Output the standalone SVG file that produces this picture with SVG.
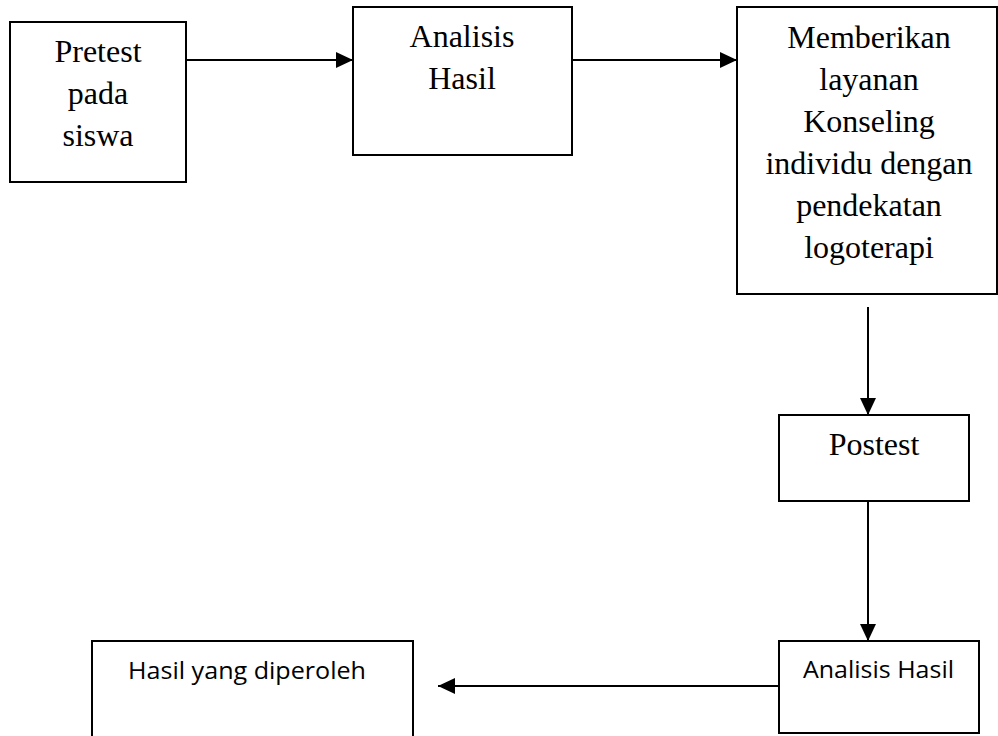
<svg xmlns="http://www.w3.org/2000/svg" width="998" height="736" viewBox="0 0 998 736">
<style>
.box{fill:#fff;stroke:#000;stroke-width:2}
.serif{font-family:"Liberation Serif","Times New Roman",serif;font-size:32px;fill:#000;text-anchor:middle}
.sans{font-family:"Open Sans","Noto Sans","Liberation Sans",sans-serif;font-size:24px;fill:#000}
.conn{stroke:#000;stroke-width:2;fill:none;marker-end:url(#arrow)}
</style>
<defs>
<marker id="arrow" viewBox="0 0 17 16" refX="17" refY="8" markerWidth="17" markerHeight="16" markerUnits="userSpaceOnUse" orient="auto">
<path d="M0,0 L17,8 L0,16 Z" fill="#000"/>
</marker>
</defs>
<rect width="998" height="736" fill="#fff"/>
<g id="n1">
<rect class="box" x="10" y="22" width="176" height="160"/>
<text class="serif" x="98" y="62">Pretest</text>
<text class="serif" x="98" y="104">pada</text>
<text class="serif" x="98" y="146">siswa</text>
</g>
<g id="n2">
<rect class="box" x="353" y="7" width="219" height="148"/>
<text class="serif" x="462" y="47">Analisis</text>
<text class="serif" x="462" y="89">Hasil</text>
</g>
<g id="n3">
<rect class="box" x="737" y="7" width="260" height="287"/>
<text class="serif" x="869" y="48">Memberikan</text>
<text class="serif" x="869" y="90">layanan</text>
<text class="serif" x="869" y="132">Konseling</text>
<text class="serif" x="869" y="174">individu dengan</text>
<text class="serif" x="869" y="216">pendekatan</text>
<text class="serif" x="869" y="258">logoterapi</text>
</g>
<g id="n4">
<rect class="box" x="779" y="415" width="190" height="86"/>
<text class="serif" x="874" y="455">Postest</text>
</g>
<g id="n5">
<rect class="box" x="779" y="641" width="200" height="92"/>
<text class="sans" x="803" y="678" textLength="151" lengthAdjust="spacingAndGlyphs">Analisis Hasil</text>
</g>
<g id="n6">
<rect class="box" x="92" y="641" width="321" height="100"/>
<text class="sans" x="128" y="679" textLength="238" lengthAdjust="spacingAndGlyphs">Hasil yang diperoleh</text>
</g>
<g id="connectors">
<line class="conn" x1="186" y1="60" x2="353" y2="60"/>
<line class="conn" x1="572" y1="60" x2="737" y2="60"/>
<line class="conn" x1="868" y1="307" x2="868" y2="415"/>
<line class="conn" x1="868" y1="501" x2="868" y2="641"/>
<line class="conn" x1="779" y1="686" x2="438" y2="686"/>
</g>
</svg>
